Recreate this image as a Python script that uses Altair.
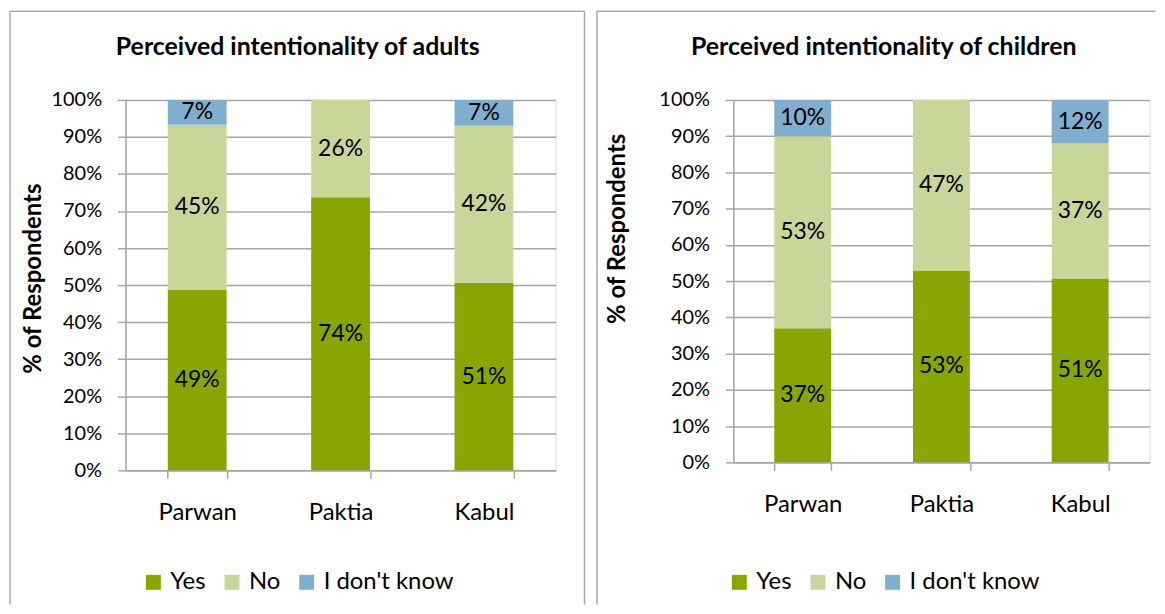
import altair as alt
import pandas as pd

regions = ["Parwan", "Paktia", "Kabul"]
answers = ["Yes", "No", "I don't know"]
colors = ["#89A501", "#C8D69A", "#7FAECE"]

adults_yes = [48.7, 73.7, 50.6]
adults_no = [44.6, 26.3, 42.4]
adults_idk = [6.7, 0.0, 7.0]

children_yes = [37.0, 52.9, 50.7]
children_no = [53.0, 47.1, 37.3]
children_idk = [10.0, 0.0, 12.0]

y_ticks = [0, 10, 20, 30, 40, 50, 60, 70, 80, 90, 100]

FONT = "Lato"
GRID = "#A6A6A6"
BORDER = "#ABABAB"


def make_df(yes, no, idk):
    rows = []
    for i, r in enumerate(regions):
        base = 0.0
        for j, (a, v) in enumerate(zip(answers, [yes[i], no[i], idk[i]])):
            if v > 0:
                rows.append(dict(region=r, answer=a, order=j, value=v,
                                 y0=base, y1=base + v, mid=base + v / 2,
                                 label=f"{round(v)}%"))
            base += v
    return pd.DataFrame(rows)


def rule(x1, x2, y1, y2):
    return alt.Chart(pd.DataFrame({"b": [0]})).mark_rule(
        color=BORDER, strokeWidth=1.5).encode(
        x=alt.value(x1), x2=alt.value(x2), y=alt.value(y1), y2=alt.value(y2))


def panel(df, title, w, h, title_x, ytitle_x, ytitle_y, legend_x, borders):
    xscale = alt.Scale(paddingInner=0.59, paddingOuter=0.295)
    xaxis = alt.Axis(title=None, labelAngle=0, tickBand="extent",
                     labelFont=FONT, labelFontSize=24, labelColor="black",
                     labelPadding=22, tickSize=8, tickColor=GRID,
                     domainColor=GRID, domainWidth=1.5, tickWidth=1.5,
                     grid=False)
    yscale = alt.Scale(domain=[0, 100], nice=False)
    yaxis = alt.Axis(values=y_ticks, labelExpr="datum.value + '%'",
                     labelOverlap=False, tickCount=11,
                     title="% of Respondents", titleFont=FONT,
                     titleFontSize=24, titleFontWeight="bold",
                     titleColor="black", titleX=ytitle_x, titleY=ytitle_y,
                     titleBaseline="middle", titleAlign="center",
                     labelFont=FONT, labelFontSize=20, labelColor="black",
                     labelPadding=16, tickSize=8, tickColor=GRID,
                     tickWidth=1.5, domainColor=GRID, domainWidth=1.5,
                     grid=True, gridColor=GRID, gridWidth=1.5)
    bars = alt.Chart(df).mark_bar().encode(
        x=alt.X("region:N", sort=regions, scale=xscale, axis=xaxis),
        y=alt.Y("y0:Q", scale=yscale, axis=yaxis),
        y2="y1:Q",
        order=alt.Order("order:Q"),
        color=alt.Color("answer:N",
                        scale=alt.Scale(domain=answers, range=colors),
                        legend=alt.Legend(orient="none", legendX=legend_x, legendY=472.5,
                                          direction="horizontal", title=None,
                                          symbolType="square", symbolSize=225,
                                          symbolStrokeWidth=0, labelFont=FONT,
                                          labelFontSize=24, labelColor="black",
                                          labelOffset=5, columnPadding=14)),
    )
    labels = alt.Chart(df).mark_text(font=FONT, fontSize=23, color="black",
                                     baseline="middle").encode(
        x=alt.X("region:N", sort=regions, scale=xscale, axis=xaxis),
        y=alt.Y("mid:Q", scale=yscale, axis=yaxis),
        text="label:N",
    )
    ttl = alt.Chart(pd.DataFrame({"t": [title]})).mark_text(
        font=FONT, fontSize=25, fontWeight="bold", color="black",
        align="center", baseline="middle").encode(
        x=alt.value(title_x), y=alt.value(-53), text="t:N")
    layers = [rule(*b) for b in borders] + [bars, labels, ttl]
    return alt.layer(*layers).properties(width=w, height=h)


TOP = -89
BOTTOM = 507

left = panel(make_df(adults_yes, adults_no, adults_idk),
             "Perceived intentionality of adults", 432, 372,
             173, -92, 179, 16,
             [(-116, -116, TOP, BOTTOM), (-116, 461, TOP, TOP), (461, 461, TOP, BOTTOM)])
right = panel(make_df(children_yes, children_no, children_idk),
              "Perceived intentionality of children", 418, 364,
              151, -116, 129, -6,
              [(-137, -137, TOP, BOTTOM), (-137, 424, TOP, TOP)])

chart = alt.hconcat(left, right, spacing=8.5).resolve_scale(
    color="independent", x="independent", y="independent"
).resolve_legend(color="independent").properties(padding=0).configure_view(
    strokeWidth=0
).configure(background="white")

chart.save("out.html", embed_options={"renderer": "svg", "actions": False})
